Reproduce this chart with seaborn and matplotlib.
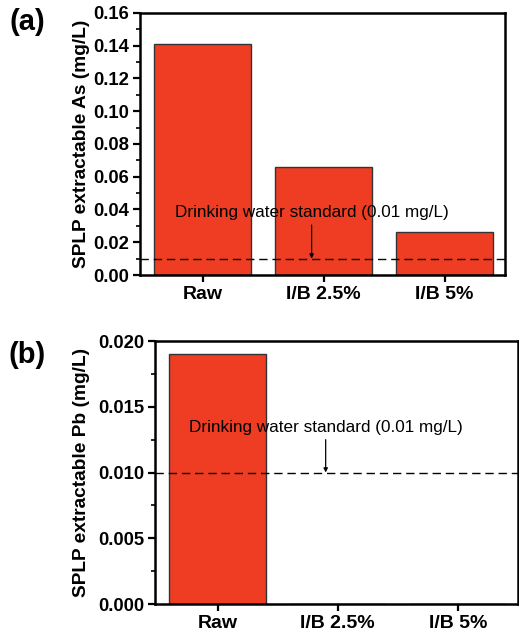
import numpy as np
import pandas as pd
import matplotlib
matplotlib.use("Agg")
import matplotlib.pyplot as plt
from matplotlib.ticker import MultipleLocator
import seaborn as sns

samples = ["Raw", "I/B 2.5%", "I/B 5%"]
as_values = [0.141, 0.066, 0.026]
pb_values = [0.019, 0.0, 0.0]
standard = 0.01
std_label = "Drinking water standard (0.01 mg/L)"

sns.set_theme(style="ticks")
plt.rcParams["font.family"] = ["Liberation Sans", "DejaVu Sans"]
plt.rcParams.update({"text.color": "black", "axes.labelcolor": "black",
                     "xtick.color": "black", "ytick.color": "black"})

fig = plt.figure(figsize=(5.19, 6.36), dpi=100)
ax_a = fig.add_axes([0.2697, 0.5676, 0.973 - 0.2697, 0.9796 - 0.5676])
ax_b = fig.add_axes([0.2987, 0.0503, 0.998 - 0.2987, 0.4638 - 0.0503])

bar_color = "#ee3d23"


def panel(ax, values, ylim, major, minor, fmt, ylabel, label_x, tag, tag_y,
          text_y, arrow_top):
    df = pd.DataFrame({"sample": samples, "value": values})
    sns.barplot(data=df, x="sample", y="value", color=bar_color, saturation=1,
                width=0.8, edgecolor="#333333", linewidth=1.0, ax=ax)
    ax.axhline(standard, color="black", linestyle=(0, (6, 3.5)), linewidth=1.0)
    ax.set_xlim(-0.52, 2.5)
    ax.set_ylim(*ylim)
    ax.yaxis.set_major_locator(MultipleLocator(major))
    ax.yaxis.set_minor_locator(MultipleLocator(minor))
    ax.yaxis.set_major_formatter(plt.FormatStrFormatter(fmt))
    ax.set_xlabel("")
    ax.set_ylabel(ylabel, fontsize=13.8, fontweight="bold", va="center")
    ax.yaxis.set_label_coords(label_x, 0.5)
    for s in ax.spines.values():
        s.set_visible(True)
        s.set_linewidth(1.8)
        s.set_color("black")
    ax.tick_params(axis="both", which="major", direction="out", length=5,
                   width=1.6, pad=3)
    ax.tick_params(axis="y", labelsize=13.3)
    ax.tick_params(axis="x", labelsize=14)
    ax.tick_params(axis="y", which="minor", direction="out", length=3, width=1.2)
    for lab in ax.get_xticklabels() + ax.get_yticklabels():
        lab.set_fontweight("bold")
    ax.text(0.9, text_y, std_label, ha="center", va="center", fontsize=12.3)
    ax.annotate("", xy=(0.9, standard), xytext=(0.9, arrow_top),
                arrowprops=dict(arrowstyle="-|>", color="black", lw=0.9,
                                mutation_scale=6, shrinkA=0, shrinkB=0))
    fig.text(0.052, tag_y, tag, fontsize=21, fontweight="bold",
             ha="center", va="center")


panel(ax_a, as_values, (0, 0.16), 0.02, 0.01, "%.2f",
      "SPLP extractable As (mg/L)", -0.16, "(a)", 1 - 22 / 636, 0.0379, 0.0305)
panel(ax_b, pb_values, (0, 0.02), 0.005, 0.0025, "%.3f",
      "SPLP extractable Pb (mg/L)", -0.202, "(b)", 1 - 355 / 636, 0.0134, 0.0125)

fig.savefig("out.png", dpi=100)
